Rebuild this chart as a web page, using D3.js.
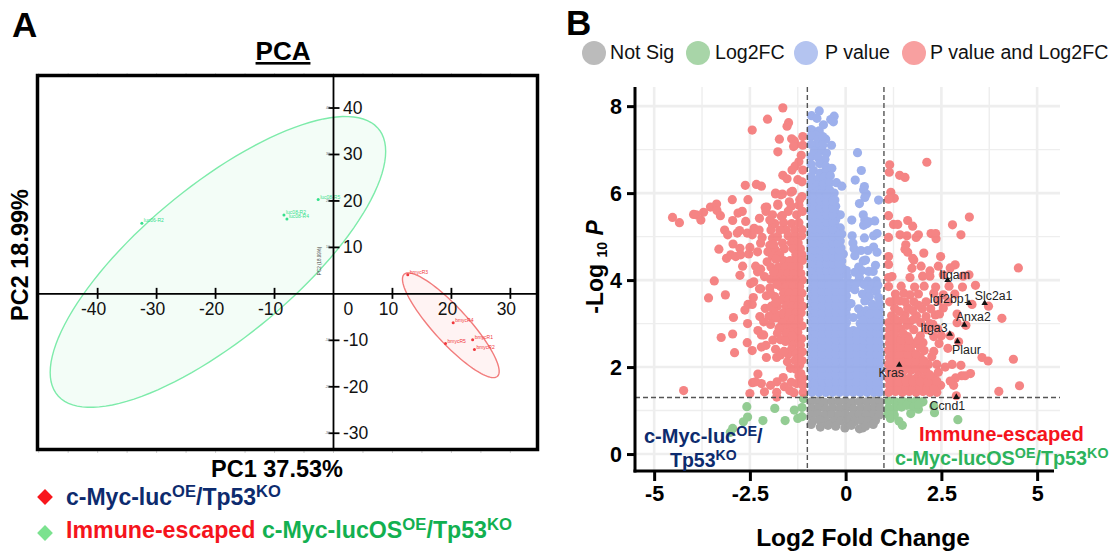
<!DOCTYPE html>
<html>
<head>
<meta charset="utf-8">
<script src="https://cdn.jsdelivr.net/npm/d3@7/dist/d3.min.js"></script>
<style>
body { margin: 0; background: #fff; }
text { font-family: "Liberation Sans", Arial, sans-serif; }
</style>
</head>
<body>
<svg width="1118" height="556"></svg>
<script>
// PCA DATA
var pcaTicksX = [-40, -30, -20, -10, 0, 10, 20, 30];
var pcaTicksY = [-30, -20, -10, 10, 20, 30, 40];
var greenSamples = [[-32.5, 15.2], [-2.6, 20.3], [-8.4, 17], [-7.9, 16.1]];
var greenNames = ['luc06-R2', 'luc08-R5', 'luc08-R2', 'luc08-R4'];
var redSamples = [[12.6, 4.1], [20.3, -6.2], [23.6, -9.9], [23.9, -12], [19, -10.7]];
var redNames = ['bmycR3', 'bmycR4', 'bmycR1', 'bmycR2', 'bmycR5'];
// center x, center y, half width, half height, correlation
var greenEllipse = [-19.6, 6.87, 28.45, 31.3, 0.76];
var redEllipse = [19.9, -6.76, 8.2, 11.27, -0.88];

// VOLCANO DATA
var volcanoTicksX = [-5, -2.5, 0, 2.5, 5];
var volcanoTicksY = [0, 2, 4, 6, 8];
var volcanoMinorX = [-3.75, -1.25, 1.25, 3.75];
var volcanoMinorY = [1, 3, 5, 7];
var legendNames = ['Not Sig', 'Log2FC', 'P value', 'P value and Log2FC'];

var notSig = [
    [-.9,1.2],[-.72,1.22],[-.55,1.19],[-.36,1.21],[-.18,1.2],[0,1.22],[.18,1.19],[.36,1.21],[.55,1.2],[.72,1.22],[.9,1.2],
    [-.88,1.05],[-.7,1.07],[-.52,1.04],[-.34,1.06],[-.15,1.05],[.03,1.07],[.2,1.04],[.4,1.06],[.58,1.05],[.75,1.07],[.9,1.05],
    [-.9,.9],[-.72,.92],[-.54,.89],[-.36,.91],[-.18,.9],[0,.92],[.18,.89],[.36,.91],[.54,.9],[.72,.92],[.88,.9],
    [-.86,.76],[-.68,.78],[-.5,.75],[-.3,.77],[-.12,.76],[.05,.78],[.24,.75],[.42,.77],[.6,.76],[.78,.77],
    [-.9,.68],[-.66,.62],[-.46,.66],[-.26,.64],[-.02,.6],[.15,.66],[.36,.58],[.44,.6],[.52,.64],[.72,.68]
];
var log2Only = [
    [-2.58,1.09],[-1.85,1.05],[-1.34,1.01],[-1.14,1.07],[-1.1,1.27],[-2.56,.85],[-2.67,.74],[-2.16,.77],[-1.58,.77],[-1.25,.82],[-1.14,.86],[-2.95,.59],[-3.01,.5],
    [1.12,1.22],[1.3,1.2],[1.48,1.22],[1.66,1.2],[1.84,1.22],[2.02,1.2],[1.12,1.05],[1.28,1.06],[1.46,1.08],[1.6,1.12],[1.78,1.08],[1.9,1.03],[2.0,1.2],
    [1.1,.92],[1.27,.9],[1.17,.82],[2.32,.95],[1.7,.93],[2.93,.79],[1.39,.76],[1.48,.66],[1.9,1.14],[2.3,1.1]
];
var pOnly = [
    // top of the column
    [-.69,7.89],[-.89,7.78],[-.75,7.72],[-.3,7.77],[-.39,7.69],[-.32,7.64],[-.58,7.57],[-.9,7.46],[-.8,7.41],[-.69,7.43],[-.78,7.33],[-.9,7.3],[-.72,7.22],[-.52,7.24],[-.6,7.3],[-.37,7.1],[-.76,7.1],[-.6,7.1],[-.9,7.12],
    [-.82,6.96],[-.62,6.98],[-.5,6.92],[-.9,6.84],[-.72,6.82],[-.54,6.78],[-.9,6.66],[-.68,6.68],[-.52,6.62],[-.36,6.57],[-.84,6.52],[-.66,6.46],[-.5,6.5],[-.9,6.38],[-.72,6.32],[-.56,6.36],[-.4,6.4],[-.9,6.22],[-.74,6.18],[-.58,6.2],[-.42,6.24],[-.24,6.24],[-.1,6.16],
    [-.9,6.06],[-.74,6.04],[-.58,6.06],[-.42,6.08],[-.3,6],[-.9,5.9],[-.74,5.88],[-.58,5.9],[-.42,5.92],[-.28,5.84],[-.9,5.74],[-.74,5.72],[-.58,5.74],[-.42,5.74],[-.26,5.7],[-.9,5.58],[-.74,5.56],[-.58,5.58],[-.42,5.58],[-.26,5.54],[-.14,5.5],
    [-.9,5.42],[-.74,5.42],[-.58,5.42],[-.42,5.42],[-.26,5.38],[-.9,5.26],[-.74,5.26],[-.58,5.26],[-.42,5.26],[-.26,5.24],[-.14,5.2],[-.9,5.1],[-.74,5.1],[-.58,5.1],[-.42,5.1],[-.26,5.1],[-.1,5.06],
    [-.9,4.94],[-.74,4.94],[-.58,4.94],[-.42,4.94],[-.26,4.94],[-.14,4.9],[-.9,4.78],[-.74,4.78],[-.58,4.78],[-.42,4.78],[-.26,4.78],[-.12,4.74],[-.06,4.6],[-.9,4.62],[-.74,4.62],[-.58,4.62],[-.42,4.62],[-.26,4.62],
    [-.9,4.46],[-.74,4.46],[-.58,4.46],[-.42,4.46],[-.26,4.46],[-.1,4.44],[-.9,4.3],[-.74,4.3],[-.58,4.3],[-.42,4.3],[-.26,4.3],[-.1,4.3],[.02,4.22],[-.9,4.14],[-.74,4.14],[-.58,4.14],[-.42,4.14],[-.26,4.14],[-.1,4.14],[.04,4.08],
    // scattered points right of the column
    [.31,6.93],[.41,6.52],[.25,6.3],[.49,6.15],[.47,6.08],[.54,5.98],[.5,5.9],[.36,5.76],[.86,5.84],[.16,5.38],[.46,5.5],[.5,5.38],[.6,5.34],[.76,5.36],[.47,5.26],[.56,5.3],[.49,4.97],[.17,5.02],[.73,5.02],[.82,5.07],
    [.19,4.85],[.22,4.72],[.4,4.68],[.58,4.68],[.73,4.76],[.82,4.64],[.24,4.56],[.46,4.44],[.52,4.46],[.78,4.34],[.34,4.3],[.42,4.22],[.6,4.2],[.24,4.18],[.72,4.2],[.8,3.98],[.36,4.06],[.58,3.98],[.15,3.92],
    // solid block
    [-.88,3.98],[-.7,3.98],[-.52,3.98],[-.34,3.98],[-.16,3.98],[.02,3.94],[.3,3.94],[.48,3.9],[.7,3.9],[.84,3.88],
    [-.88,3.82],[-.7,3.82],[-.52,3.82],[-.34,3.82],[-.16,3.82],[.04,3.8],[.24,3.78],[.6,3.78],[.8,3.74],
    [-.88,3.66],[-.7,3.66],[-.52,3.66],[-.34,3.66],[-.16,3.66],[.02,3.64],[.44,3.68],[.62,3.62],[.86,3.6],
    [-.88,3.5],[-.7,3.5],[-.52,3.5],[-.34,3.5],[-.16,3.5],[.02,3.5],[.14,3.46],[.5,3.52],[.7,3.44],[.88,3.46],
    [-.88,3.34],[-.7,3.34],[-.52,3.34],[-.34,3.34],[-.16,3.34],[.02,3.34],[.34,3.34],[.54,3.3],[.74,3.3],[.88,3.3],
    [-.88,3.18],[-.7,3.18],[-.52,3.18],[-.34,3.18],[-.16,3.18],[.02,3.2],[.2,3.14],[.4,3.18],[.58,3.14],[.76,3.16],[.88,3.14],
    [-.88,3.02],[-.7,3.02],[-.52,3.02],[-.34,3.02],[-.16,3.02],[.02,3.02],[.38,3],[.56,3],[.74,3],[.88,3],
    [-.88,2.86],[-.7,2.86],[-.52,2.86],[-.34,2.86],[-.16,2.86],[.02,2.86],[.2,2.84],[.38,2.86],[.56,2.86],[.74,2.86],[.88,2.84],
    [-.88,2.7],[-.7,2.7],[-.52,2.7],[-.34,2.7],[-.16,2.7],[.02,2.7],[.2,2.7],[.38,2.7],[.56,2.7],[.74,2.7],[.88,2.7],
    [-.88,2.54],[-.7,2.54],[-.52,2.54],[-.34,2.54],[-.16,2.54],[.02,2.54],[.2,2.54],[.38,2.54],[.56,2.54],[.74,2.54],[.88,2.54],
    [-.88,2.38],[-.7,2.38],[-.52,2.38],[-.34,2.38],[-.16,2.38],[.02,2.38],[.2,2.38],[.38,2.38],[.56,2.38],[.74,2.38],[.88,2.38],
    [-.88,2.22],[-.7,2.22],[-.52,2.22],[-.34,2.22],[-.16,2.22],[.02,2.22],[.2,2.22],[.38,2.22],[.56,2.22],[.74,2.22],[.88,2.22],
    [-.88,2.06],[-.7,2.06],[-.52,2.06],[-.34,2.06],[-.16,2.06],[.02,2.06],[.2,2.06],[.38,2.06],[.56,2.06],[.74,2.06],[.88,2.06],
    [-.88,1.9],[-.7,1.9],[-.52,1.9],[-.34,1.9],[-.16,1.9],[.02,1.9],[.2,1.9],[.38,1.9],[.56,1.9],[.74,1.9],[.88,1.9],
    [-.88,1.74],[-.7,1.74],[-.52,1.74],[-.34,1.74],[-.16,1.74],[.02,1.74],[.2,1.74],[.38,1.74],[.56,1.74],[.74,1.74],[.88,1.74],
    [-.88,1.58],[-.7,1.58],[-.52,1.58],[-.34,1.58],[-.16,1.58],[.02,1.58],[.2,1.58],[.38,1.58],[.56,1.58],[.74,1.58],[.88,1.58],
    [-.88,1.42],[-.7,1.42],[-.52,1.42],[-.34,1.42],[-.16,1.42],[.02,1.42],[.2,1.42],[.38,1.42],[.56,1.42],[.74,1.42],[.88,1.42],
    // between the rows, the block has no white holes
    [-.79,1.5],[-.61,1.5],[-.43,1.5],[-.25,1.5],[-.07,1.5],[.11,1.5],[.29,1.5],[.47,1.5],[.65,1.5],[.81,1.5],
    [-.79,1.66],[-.61,1.66],[-.43,1.66],[-.25,1.66],[-.07,1.66],[.11,1.66],[.29,1.66],[.47,1.66],[.65,1.66],[.81,1.66],
    [-.79,1.82],[-.61,1.82],[-.43,1.82],[-.25,1.82],[-.07,1.82],[.11,1.82],[.29,1.82],[.47,1.82],[.65,1.82],[.81,1.82],
    [-.79,1.98],[-.61,1.98],[-.43,1.98],[-.25,1.98],[-.07,1.98],[.11,1.98],[.29,1.98],[.47,1.98],[.65,1.98],[.81,1.98],
    [-.79,2.14],[-.61,2.14],[-.43,2.14],[-.25,2.14],[-.07,2.14],[.11,2.14],[.29,2.14],[.47,2.14],[.65,2.14],[.81,2.14],
    [-.79,2.3],[-.61,2.3],[-.43,2.3],[-.25,2.3],[-.07,2.3],[.11,2.3],[.29,2.3],[.47,2.3],[.65,2.3],[.81,2.3],
    [-.79,2.46],[-.61,2.46],[-.43,2.46],[-.25,2.46],[-.07,2.46],[.11,2.46],[.29,2.46],[.47,2.46],[.65,2.46],[.81,2.46],
    [-.79,2.62],[-.61,2.62],[-.43,2.62],[-.25,2.62],[-.07,2.62],[.11,2.62],[.29,2.62],[.47,2.62],[.65,2.62],[.81,2.62],
    [-.79,2.78],[-.61,2.78],[-.43,2.78],[-.25,2.78],[-.07,2.78],[.11,2.78],[.29,2.78],[.47,2.78],[.65,2.78],[.81,2.78],
    [-.79,2.94],[-.61,2.94],[-.43,2.94],[-.25,2.94],[-.07,2.94],[.47,2.94],[.65,2.94],[.81,2.94],
    [-.79,3.1],[-.61,3.1],[-.43,3.1],[-.25,3.1],[-.07,3.1],[.47,3.08],[.66,3.08],[.82,3.08],
    [-.79,3.26],[-.61,3.26],[-.43,3.26],[-.25,3.26],[-.07,3.26],[.64,3.22],[.82,3.22],
    [-.79,3.42],[-.61,3.42],[-.43,3.42],[-.25,3.42],[-.07,3.42],[-.79,3.58],[-.61,3.58],[-.43,3.58],[-.25,3.58],[-.07,3.58],
    [-.79,3.74],[-.61,3.74],[-.43,3.74],[-.25,3.74],[-.07,3.74],[-.79,3.9],[-.61,3.9],[-.43,3.9],[-.25,3.9],[-.07,3.9],
    [-.79,4.06],[-.61,4.06],[-.43,4.06],[-.25,4.06],[-.82,4.22],[-.66,4.22],[-.5,4.22],[-.34,4.22],[-.18,4.22],
    [-.82,4.38],[-.66,4.38],[-.5,4.38],[-.34,4.38],[-.18,4.38],[-.82,4.54],[-.66,4.54],[-.5,4.54],[-.34,4.54],[-.18,4.54],
    [-.82,4.7],[-.66,4.7],[-.5,4.7],[-.34,4.7],[-.18,4.7],[-.82,4.86],[-.66,4.86],[-.5,4.86],[-.34,4.86],[-.2,4.86],
    [-.82,5.02],[-.66,5.02],[-.5,5.02],[-.34,5.02],[-.18,5.02],[-.82,5.18],[-.66,5.18],[-.5,5.18],[-.34,5.18],
    [-.82,5.34],[-.66,5.34],[-.5,5.34],[-.34,5.34],[-.82,5.5],[-.66,5.5],[-.5,5.5],[-.34,5.5],
    [-.82,5.66],[-.66,5.66],[-.5,5.66],[-.34,5.66],[-.82,5.82],[-.66,5.82],[-.5,5.82],[-.34,5.82],[-.82,5.98],[-.66,5.98],[-.5,5.98]
];
var pAndLog2 = [
    // upper left, read point by point
    [-1.64,7.96],[-2.04,7.7],[-1.49,7.62],[-1.53,7.54],[-2.44,7.45],[-1.73,7.24],[-1.41,7.25],[-1.34,7.2],[-1.31,7.12],[-1.36,7.07],[-1.77,6.95],[-1.12,7.3],[-1.12,7.1],[-1.16,6.87],[-1.22,6.72],[-1.32,6.62],[-1.4,6.53],[-1.64,6.41],[-1.53,6.33],[-1.25,6.31],[-1.14,6.26],[-1.12,6.53],
    [-4.52,5.44],[-4.34,5.32],[-3.97,5.51],[-3.9,5.5],[-3.71,5.56],[-3.78,5.38],[-3.53,5.68],[-3.37,5.75],[-3.36,5.6],[-3.27,5.48],[-2.96,5.85],[-2.55,5.85],[-2.62,6.18],[-2.33,6.2],[-2.2,6.16],[-2.81,5.54],[-2.7,5.58],[-2.95,5.37],[-2.61,5.35],[-2.25,5.42],[-2.06,5.68],[-2.08,5.58],[-1.91,5.5],[-1.83,6],[-1.65,5.98],[-1.39,6.04],[-1.77,5.75],[-1.65,5.48],
    [-3.16,5.15],[-3.08,5.04],[-2.83,5.08],[-2.77,5.14],[-2.57,5.08],[-2.44,5.04],[-2.39,5.19],[-2.26,5.15],[-1.91,5.27],[-1.95,5.15],[-2.18,4.98],[-2.22,4.85],[-1.91,4.96],[-2.94,4.83],[-3.31,4.71],[-3.11,4.5],[-3,4.58],[-2.87,4.54],[-2.76,4.73],[-2.74,4.58],[-2.5,4.75],[-2.53,4.6],[-2.3,4.65],[-2.03,4.65],[-1.83,4.69],[-2.69,4.32],[-2.76,4.11],[-3.43,3.98],[-2.35,4.32],[-2.22,4.25],[-2.3,4.19],[-2.48,3.92],[-2.4,3.96],[-1.96,4.02],[-1.8,4.04],[-2.22,3.8],[-1.91,4.55],
    [-1.47,5.8],[-1.77,5.72],[-2.1,5.67],[-1.42,5.7],[-1.22,5.72],[-1.5,5.58],[-1.68,5.47],[-1.28,5.5],[-1.13,5.58],[-1.14,5.92],[-1.43,6.02],[-1.83,5.98],[-1.69,5.96],[-1.2,5.85],
    // dense left core
    [-1.85,5.3],[-1.62,5.32],[-1.41,5.3],[-1.22,5.32],[-1.55,5.15],[-1.33,5.15],[-1.14,5.16],[-1.78,5],[-1.5,5.02],[-1.3,5],[-1.15,5.02],[-1.65,4.85],[-1.42,4.86],[-1.24,4.85],[-1.6,4.72],[-1.37,4.72],[-1.18,4.72],[-1.72,4.58],[-1.3,4.58],[-1.14,4.58],
    [-1.62,4.45],[-1.45,4.45],[-1.28,4.44],[-1.13,4.45],[-1.75,4.3],[-1.58,4.3],[-1.4,4.3],[-1.22,4.3],[-1.68,4.15],[-1.52,4.15],[-1.35,4.15],[-1.17,4.15],[-1.62,4],[-1.45,4],[-1.28,4],[-1.13,4],[-1.7,3.85],[-1.55,3.85],[-1.38,3.85],[-1.2,3.85],[-1.62,3.7],[-1.47,3.7],[-1.3,3.7],[-1.14,3.7],
    [-1.66,3.55],[-1.5,3.55],[-1.35,3.55],[-1.2,3.55],[-1.55,3.4],[-1.4,3.4],[-1.25,3.4],[-1.12,3.4],[-1.62,3.25],[-1.46,3.25],[-1.3,3.25],[-1.16,3.25],[-1.55,3.1],[-1.38,3.1],[-1.22,3.1],[-1.5,2.95],[-1.32,2.95],[-1.14,2.95],[-1.42,2.8],[-1.25,2.8],[-1.5,2.65],[-1.3,2.65],[-1.15,2.65],[-1.38,2.5],[-1.18,2.5],[-1.25,2.35],[-1.13,2.35],[-1.32,2.15],[-1.14,2.15],
    [-1.98,5.38],[-1.72,5.15],[-1.98,4.8],[-1.88,4.82],[-1.82,4.48],[-2.05,4.42],[-1.95,4.3],[-1.88,4.18],[-2.12,4.08],[-1.8,3.9],[-1.98,3.82],[-1.85,3.62],[-1.78,3.4],[-1.7,3.2],[-1.88,3.3],[-2.1,3.35],[-1.66,3.02],[-1.6,2.88],[-1.56,2.78],[-1.9,2.62],[-1.42,2.4],[-1.5,2.3],[-1.2,2.05],[-1.3,1.95],[-1.22,1.8],[-1.28,1.62],[-1.6,1.55],[-1.42,1.65],
    // lower left
    [-3.58,3.59],[-3.14,3.66],[-2.93,3.14],[-2.63,3.31],[-2.55,3.44],[-2.44,3.44],[-2.41,3.6],[-2.56,3],[-3.25,2.68],[-2.95,2.76],[-2.9,2.33],[-2.57,2.56],[-2.44,2.38],[-2.29,2.84],[-2.24,3.16],[-2.25,3.8],[-2.2,2.74],[-2.14,2.74],[-2.2,2.46],[-2.08,2.5],[-2.07,2.22],[-1.83,2.41],[-1.8,2.22],[-1.7,2.28],[-1.61,2.36],[-2,3.17],[-2.14,3.04],[-1.94,3.4],[-1.83,3.48],[-2.07,3.64],[-1.96,3.69],[-1.83,3.13],[-1.96,2.98],[-1.74,2.9],[-1.78,2.78],[-1.7,2.63],[-1.57,2.59],[-1.52,2.12],[-1.39,2.71],[-1.44,1.97],[-1.3,2.3],[-1.22,2.2],[-1.17,1.85],[-2.29,1.84],[-1.63,1.76],[-1.79,1.66],[-1.96,1.58],[-2.2,1.62],[-2.43,1.64],[-2.35,1.66],[-4.23,1.46],[-2.5,1.39],[-2.12,1.43],[-1.8,1.42],[-1.8,1.31],[-1.46,1.46],[-1.35,1.41],[-1.11,1.42],[-1.12,1.74],[-1.12,1.58],
    // upper right, read point by point
    [2.12,6.71],[1.15,6.65],[1.14,6.48],[1.41,6.41],[1.55,6.36],[1.18,6.02],[1.12,5.86],[1.27,5.88],[1.12,5.48],[3.23,5.45],[1.25,5.28],[1.36,5.28],[1.62,5.37],[1.75,5.24],[2.79,5.27],[3.01,5.04],[1.42,5.04],[1.6,5.02],[1.9,5.04],[1.84,4.98],[2.23,5.07],[2.35,5.07],[2.36,4.95],[1.12,4.98],[1.57,4.81],[1.55,4.71],[1.62,4.64],[2.04,4.62],[1.75,4.5],[1.78,4.46],[1.12,4.54],[1.12,4.36],[2.48,4.54],[2.42,4.32],[2.86,4.35],[2.73,4.28],[1.73,4.27],[1.97,4.32],[2.2,4.21],[2.01,4.09],[2.2,4.09],[1.68,4.06],[1.21,4.08],[1.12,4.06],[4.51,4.28],[2.55,4.12],[3.07,4.09],[3.22,4.12],
    // lower right
    [3.39,3.88],[3.3,3.44],[3.73,3.4],[4.08,3.12],[3.14,2.96],[2.91,3.22],[2.91,3.02],[2.73,2.72],[2.95,2.58],[2.67,2.43],[3.56,2.22],[3.72,2.14],[4.38,2.18],[3.26,1.85],[4.54,1.57],[4,1.44],[2.89,1.34],[2.82,1.58],[3.01,2.04],[2.78,2.06],[2.6,2],[3.03,1.8],[3.12,1.8],[2.87,1.75],[2.73,1.68],
    [1.12,1.42],[1.3,1.44],[1.48,1.42],[1.66,1.44],[1.84,1.42],[2.02,1.44],[2.2,1.42],[2.38,1.42],[1.14,1.58],[1.32,1.58],[1.5,1.6],[1.68,1.58],[1.86,1.58],[2.04,1.6],[2.22,1.58],[2.48,1.58],[1.12,1.74],[1.3,1.74],[1.48,1.76],[1.66,1.74],[1.84,1.74],[2.02,1.74],[2.3,1.74],[1.14,1.9],[1.32,1.9],[1.5,1.9],[1.7,1.92],[1.9,1.9],[2.1,1.9],[2.42,1.88],
    [1.12,2.06],[1.3,2.06],[1.5,2.06],[1.68,2.08],[1.86,2.06],[2.16,2.06],[2.38,2.06],[1.14,2.22],[1.34,2.22],[1.52,2.22],[1.72,2.24],[1.95,2.22],[2.25,2.24],[1.12,2.38],[1.3,2.38],[1.5,2.4],[1.7,2.38],[2.05,2.38],[2.3,2.36],[1.14,2.54],[1.34,2.54],[1.56,2.56],[1.8,2.54],[2.02,2.56],[2.44,2.54],[1.12,2.7],[1.3,2.7],[1.62,2.7],[1.95,2.72],[2.3,2.7],[2.5,2.72],
    [1.14,2.86],[1.42,2.88],[1.78,2.86],[2.12,2.86],[2.4,2.88],[1.12,3.02],[1.36,3.02],[1.68,3.04],[1.96,3.02],[2.2,3],[1.2,3.18],[1.55,3.2],[1.85,3.18],[2.34,3.2],[2.1,3.16],[1.28,3.35],[1.62,3.36],[2,3.34],[2.22,3.34],[2.55,3.36],[1.15,3.5],[1.42,3.52],[1.78,3.5],[2.1,3.5],[2.42,3.52],[2.68,3.5],[1.3,3.68],[1.52,3.7],[1.68,3.66],[1.9,3.68],[2.3,3.7],[2.55,3.66],[2.85,3.68],[1.12,3.85],[1.45,3.86],[1.8,3.84],[2.05,3.86],[2.35,3.84],[2.7,3.86],[3.05,3.84],
    [1.22,1.5],[1.4,1.5],[1.58,1.5],[1.76,1.5],[1.94,1.5],[2.12,1.5],[2.3,1.5],[1.22,1.66],[1.4,1.66],[1.58,1.66],[1.76,1.66],[1.94,1.66],[2.14,1.66],[2.38,1.68],[2.2,1.82],[2,1.98],[1.8,1.98],[1.6,1.98],[1.4,1.98],[1.22,1.98],[2.05,2.14],[1.82,2.14],[1.62,2.14],[1.42,2.14],[1.22,2.14],[1.24,2.3],[1.42,2.3],[1.62,2.3],[1.84,2.3],[1.95,2.45],[1.62,2.46],[1.42,2.46],[1.22,2.46],[1.45,2.62],[1.66,2.62],[1.9,2.62],[1.22,2.62],[1.5,2.78],[1.26,2.78],[1.24,2.94],[1.6,2.96],[2.28,2.98],[1.5,3.1],[1.78,3.1],[1.3,3.1],[1.4,3.28],[1.75,3.3],[2.45,3.22],[1.9,3.42],[1.55,3.5],[1.3,3.55]
];
var geneNames = ['Itgam', 'Igf2bp1', 'Slc2a1', 'Anxa2', 'Itga3', 'Plaur', 'Kras', 'Ccnd1'];
var geneX = [2.66, 3.22, 3.63, 3.1, 2.72, 2.92, 1.4, 2.89];
var geneY = [4.0, 3.47, 3.47, 2.97, 2.76, 2.59, 2.05, 1.31];

//SVG SETUP
var svg = d3.select('svg').attr('width', 1118).attr('height', 556);

// text built of pieces, sup pieces are raised and smaller
function richText(x, y, size, parts) {
    var t = svg.append('text').attr('x', x).attr('y', y)
        .attr('font-size', size).attr('font-weight', 'bold');
    var raised = false;
    parts.forEach(function(p) {
        var span = t.append('tspan').text(p.t).attr('fill', p.c);
        if (p.sup) {
            span.attr('font-size', size * 0.72).attr('dy', -size * 0.36);
            raised = true;
        } else if (raised) {
            span.attr('dy', size * 0.36);
            raised = false;
        }
    });
    return t;
}

//PANEL LETTERS
svg.append('text').text('A').attr('x', 12).attr('y', 37)
    .attr('font-size', 35).attr('font-weight', 'bold');
svg.append('text').text('B').attr('x', 566).attr('y', 35)
    .attr('font-size', 35).attr('font-weight', 'bold');

//PCA PANEL
var pcaX = d3.scaleLinear().domain([-50.2, 34.6]).range([37.5, 537.5]);
var pcaY = d3.scaleLinear().domain([-33.5, 47]).range([449.5, 75.5]);

svg.append('text').text('PCA').attr('x', 283).attr('y', 60)
    .attr('text-anchor', 'middle').attr('font-size', 26).attr('font-weight', 'bold')
    .attr('text-decoration', 'underline');

function ellipsePath(e) {
    var phi = Math.acos(e[4]);
    var line = d3.line()
        .x(function(t) { return pcaX(e[0] + e[2] * Math.cos(t)); })
        .y(function(t) { return pcaY(e[1] + e[3] * Math.cos(t - phi)); })
        .curve(d3.curveLinearClosed);
    return line(d3.range(0, 360, 3).map(function(a) { return a * Math.PI / 180; }));
}

svg.append('path').attr('d', ellipsePath(greenEllipse))
    .attr('fill', '#f3fdf7').attr('stroke', '#7debaa').attr('stroke-width', 1.4);
svg.append('path').attr('d', ellipsePath(redEllipse))
    .attr('fill', '#fff3f3').attr('stroke', '#f27c7c').attr('stroke-width', 1.4);

function drawSamples(samples, names, color) {
    svg.selectAll(null).data(samples).enter().append('circle')
        .attr('cx', function(d) { return pcaX(d[0]); })
        .attr('cy', function(d) { return pcaY(d[1]); })
        .attr('r', 1.5).attr('fill', color);
    svg.selectAll(null).data(samples).enter().append('text')
        .text(function(d, i) { return names[i]; })
        .attr('x', function(d) { return pcaX(d[0]) + 2; })
        .attr('y', function(d) { return pcaY(d[1]) - 1; })
        .attr('font-size', 5).attr('fill', color);
}
drawSamples(greenSamples, greenNames, '#35e08c');
drawSamples(redSamples, redNames, '#f0383c');

// small grey ticks outside the box
var boxMinor = d3.range(-50, 35, 5);
svg.selectAll(null).data(boxMinor).enter().append('line')
    .attr('x1', function(d) { return pcaX(d); }).attr('x2', function(d) { return pcaX(d); })
    .attr('y1', 450).attr('y2', 453).attr('stroke', '#bbb').attr('stroke-width', 0.7);
svg.selectAll(null).data(boxMinor).enter().append('line')
    .attr('x1', function(d) { return pcaX(d); }).attr('x2', function(d) { return pcaX(d); })
    .attr('y1', 73).attr('y2', 75).attr('stroke', '#ccc').attr('stroke-width', 0.7);

svg.append('rect').attr('x', 37.5).attr('y', 75.5).attr('width', 500).attr('height', 374)
    .attr('fill', 'none').attr('stroke', '#000').attr('stroke-width', 3.5);
svg.append('line').attr('x1', 37.5).attr('x2', 537.5)
    .attr('y1', pcaY(0)).attr('y2', pcaY(0)).attr('stroke', '#000').attr('stroke-width', 1.8);
svg.append('line').attr('x1', pcaX(0)).attr('x2', pcaX(0))
    .attr('y1', 75.5).attr('y2', 449.5).attr('stroke', '#000').attr('stroke-width', 1.8);

svg.selectAll(null).data(pcaTicksX.filter(function(d) { return d != 0; })).enter().append('line')
    .attr('x1', function(d) { return pcaX(d); }).attr('x2', function(d) { return pcaX(d); })
    .attr('y1', pcaY(0) - 6).attr('y2', pcaY(0) + 5).attr('stroke', '#000').attr('stroke-width', 1.8);
svg.selectAll(null).data(pcaTicksY).enter().append('line')
    .attr('y1', function(d) { return pcaY(d); }).attr('y2', function(d) { return pcaY(d); })
    .attr('x1', pcaX(0) - 5).attr('x2', pcaX(0) + 6).attr('stroke', '#000').attr('stroke-width', 1.8);

svg.selectAll(null).data(pcaTicksX).enter().append('text')
    .text(function(d) { return d; })
    .attr('x', function(d) { return d == 0 ? pcaX(d) + 15 : pcaX(d) - 4; })
    .attr('y', 315).attr('text-anchor', 'middle').attr('font-size', 17.5).attr('fill', '#111');
svg.selectAll(null).data(pcaTicksY).enter().append('text')
    .text(function(d) { return d; })
    .attr('x', 343).attr('y', function(d) { return pcaY(d) + 6; })
    .attr('font-size', 17.5).attr('fill', '#111');
// the tiny copy of the axis left over from the plot software
svg.selectAll(null).data(pcaTicksY).enter().append('text')
    .text(function(d) { return d; })
    .attr('x', 330).attr('y', function(d) { return pcaY(d) + 1; })
    .attr('text-anchor', 'end').attr('font-size', 3.5).attr('fill', '#666');
svg.append('text').text('PC2 (18.99%)').attr('transform', 'translate(321,261) rotate(-90)')
    .attr('text-anchor', 'middle').attr('font-size', 4.5).attr('fill', '#444');

svg.append('text').text('PC2 18.99%').attr('transform', 'translate(28,255) rotate(-90)')
    .attr('text-anchor', 'middle').attr('font-size', 23.5).attr('font-weight', 'bold');
svg.append('text').text('PC1 37.53%').attr('x', 277).attr('y', 477)
    .attr('text-anchor', 'middle').attr('font-size', 23.5).attr('font-weight', 'bold');

var diamond = d3.symbol().type(d3.symbolSquare).size(125);
svg.append('path').attr('d', diamond).attr('transform', 'translate(45,497) rotate(45)').attr('fill', '#f8161c');
svg.append('path').attr('d', diamond).attr('transform', 'translate(45,533) rotate(45)').attr('fill', '#7be28f');

var navy = '#0d2b6e', red = '#f5141c', green = '#12b050';
richText(66, 505, 23, [
    {t: 'c-Myc-luc', c: navy}, {t: 'OE', c: navy, sup: true}, {t: '/Tp53', c: navy}, {t: 'KO', c: navy, sup: true}
]);
richText(66, 538, 23.2, [
    {t: 'Immune-escaped ', c: red}, {t: 'c-Myc-lucOS', c: green}, {t: 'OE', c: green, sup: true},
    {t: '/Tp53', c: green}, {t: 'KO', c: green, sup: true}
]);

//VOLCANO PANEL
var volX = d3.scaleLinear().domain([-5.5, 5.597]).range([635, 1060]);
var volY = d3.scaleLinear().domain([-0.39, 8.44]).range([471, 87]);

var gridG = svg.append('g').attr('stroke', '#eeeeee');
gridG.selectAll(null).data(volcanoMinorX).enter().append('line')
    .attr('x1', function(d) { return volX(d); }).attr('x2', function(d) { return volX(d); })
    .attr('y1', 87).attr('y2', 471).attr('stroke-width', 1.4);
gridG.selectAll(null).data(volcanoMinorY).enter().append('line')
    .attr('y1', function(d) { return volY(d); }).attr('y2', function(d) { return volY(d); })
    .attr('x1', 635).attr('x2', 1060).attr('stroke-width', 1.4);
gridG.selectAll(null).data(volcanoTicksX).enter().append('line')
    .attr('x1', function(d) { return volX(d); }).attr('x2', function(d) { return volX(d); })
    .attr('y1', 87).attr('y2', 471).attr('stroke-width', 2.6);
gridG.selectAll(null).data(volcanoTicksY).enter().append('line')
    .attr('y1', function(d) { return volY(d); }).attr('y2', function(d) { return volY(d); })
    .attr('x1', 635).attr('x2', 1060).attr('stroke-width', 2.6);

// each group is flattened so the dense parts stay one even colour
var ptSets = [notSig, log2Only, pAndLog2, pOnly];
var ptColors = ['#9b9b9b', '#88c788', '#f47777', '#93a8ea'];
ptSets.forEach(function(points, k) {
    svg.append('g').attr('opacity', 0.9).attr('fill', ptColors[k])
        .selectAll('circle').data(points).enter().append('circle')
        .attr('cx', function(d) { return volX(d[0]); })
        .attr('cy', function(d) { return volY(d[1]); })
        .attr('r', 4.6);
});

// cut off lines
[-1, 1].forEach(function(v) {
    svg.append('line').attr('x1', volX(v)).attr('x2', volX(v)).attr('y1', 87).attr('y2', 471)
        .attr('stroke', '#555').attr('stroke-width', 1.4).attr('stroke-dasharray', '5,3');
});
svg.append('line').attr('x1', 635).attr('x2', 1060).attr('y1', volY(1.3)).attr('y2', volY(1.3))
    .attr('stroke', '#555').attr('stroke-width', 1.4).attr('stroke-dasharray', '5,3');

// axes
var xAxisG = svg.append('g').attr('transform', 'translate(0,471)')
    .call(d3.axisBottom(volX).tickValues(volcanoTicksX).tickSizeOuter(0).tickSize(10)
        .tickFormat(function(d) { return d; }));
var yAxisG = svg.append('g').attr('transform', 'translate(635,0)')
    .call(d3.axisLeft(volY).tickValues(volcanoTicksY).tickSizeOuter(0).tickSize(8));
xAxisG.select('.domain').remove();
yAxisG.select('.domain').remove();
[xAxisG, yAxisG].forEach(function(g) {
    g.selectAll('line').attr('stroke', '#000').attr('stroke-width', 3);
    g.selectAll('text').attr('font-family', '"Liberation Sans", Arial, sans-serif')
        .attr('font-size', 21.5).attr('font-weight', 'bold').attr('fill', '#000');
});
xAxisG.selectAll('text').attr('y', 15).attr('dy', '0.71em');
yAxisG.selectAll('text').attr('x', -13).attr('dy', '0.36em');
svg.append('line').attr('x1', 633.5).attr('x2', 1054).attr('y1', 471).attr('y2', 471)
    .attr('stroke', '#000').attr('stroke-width', 3);
svg.append('line').attr('x1', 635).attr('x2', 635).attr('y1', 87).attr('y2', 472.5)
    .attr('stroke', '#000').attr('stroke-width', 3);

// highlighted genes
var tri = d3.symbol().type(d3.symbolTriangle).size(18);
geneNames.forEach(function(name, i) {
    svg.append('path').attr('d', tri).attr('fill', '#111')
        .attr('transform', 'translate(' + volX(geneX[i]) + ',' + volY(geneY[i]) + ')');
});
var labelDx = [7, -19, 9, 9, -16, 9, -8, -9];
var labelDy = [-6, -5, -8, -8, -6, 8, 8, 9];
svg.selectAll(null).data(geneNames).enter().append('text')
    .text(function(d) { return d; })
    .attr('x', function(d, i) { return volX(geneX[i]) + labelDx[i]; })
    .attr('y', function(d, i) { return volY(geneY[i]) + labelDy[i]; })
    .attr('dy', '0.36em').attr('text-anchor', 'middle')
    .attr('font-size', 12.3).attr('fill', '#222');

// legend
var legendDot = [594, 698, 806, 914];
var legendText = [610, 715, 825, 930];
var legendFill = ['#bbbbbb', '#a8d5a8', '#b4c4f0', '#f8a0a0'];
legendNames.forEach(function(name, i) {
    svg.append('circle').attr('cx', legendDot[i]).attr('cy', 53).attr('r', 12).attr('fill', legendFill[i]);
    svg.append('text').text(name).attr('x', legendText[i]).attr('y', 59)
        .attr('font-size', 19.6).attr('fill', '#111');
});

// y title
var yTitle = svg.append('text').attr('transform', 'translate(603,267) rotate(-90)')
    .attr('text-anchor', 'middle').attr('font-size', 23).attr('font-weight', 'bold');
yTitle.append('tspan').text('-Log ');
yTitle.append('tspan').text('10').attr('font-size', 14).attr('dy', 4);
yTitle.append('tspan').text(' P').attr('font-style', 'italic').attr('dy', -4);

svg.append('text').text('Log2 Fold Change').attr('x', 863).attr('y', 546)
    .attr('text-anchor', 'middle').attr('font-size', 24.5).attr('font-weight', 'bold');

// group names inside the plot
richText(644, 443, 20, [{t: 'c-Myc-luc', c: navy}, {t: 'OE', c: navy, sup: true}, {t: '/', c: navy}]);
richText(670, 467, 19.5, [{t: 'Tp53', c: navy}, {t: 'KO', c: navy, sup: true}]);
richText(919, 441, 20.2, [{t: 'Immune-escaped', c: red}]);
richText(895, 465, 19.8, [
    {t: 'c-Myc-lucOS', c: '#2cb35c'}, {t: 'OE', c: '#2cb35c', sup: true},
    {t: '/Tp53', c: '#2cb35c'}, {t: 'KO', c: '#2cb35c', sup: true}
]);
</script>
</body>
</html>
